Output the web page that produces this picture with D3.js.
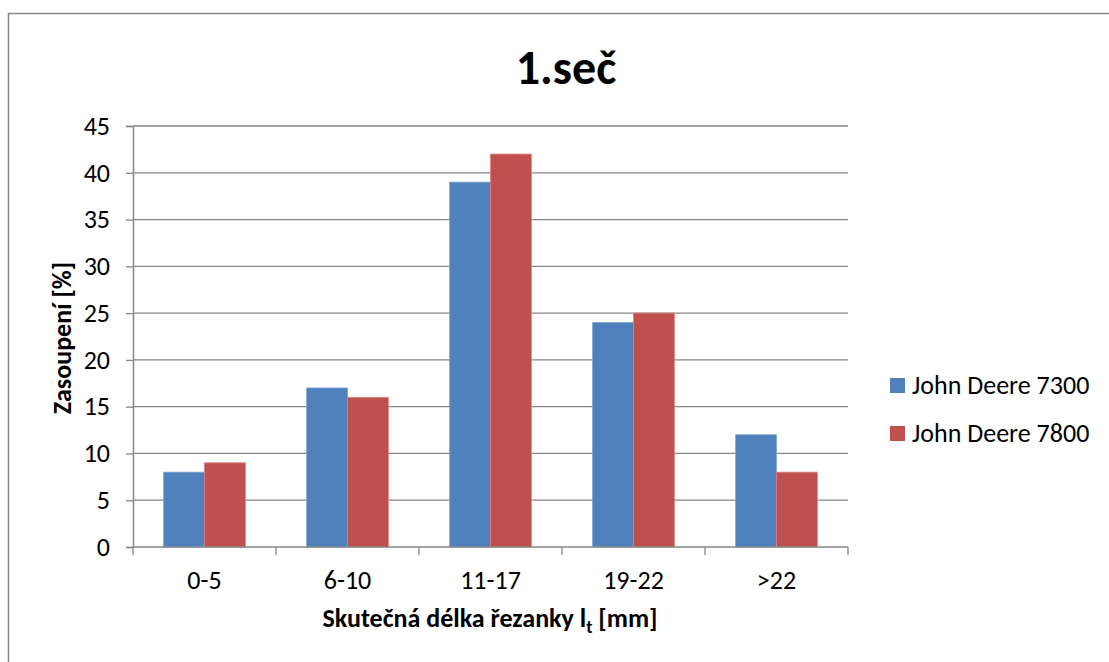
<!DOCTYPE html>
<html>
<head>
<meta charset="utf-8">
<script src="https://cdn.jsdelivr.net/npm/d3@7/dist/d3.min.js"></script>
<style>
  html, body { margin: 0; padding: 0; background: #fff; }
  svg { display: block; font-family: Carlito, Lato, "Open Sans", sans-serif; }
</style>
</head>
<body>
<svg id="chart" width="1109" height="662"></svg>
<script>
// Share of chopped-forage particle length classes, first cut
const categories = ["0-5", "6-10", "11-17", "19-22", ">22"];
const seriesNames = ["John Deere 7300", "John Deere 7800"];
const jd7300 = [8, 17, 39, 24, 12];
const jd7800 = [9, 16, 42, 25, 8];
const yTicks = [0, 5, 10, 15, 20, 25, 30, 35, 40, 45];
const colors = ["#4F81BD", "#C0504D"];
const edgeColors = ["#7FA3D3", "#D98381"];

const series = [jd7300, jd7800];
const svg = d3.select("#chart");
const gridColor = "#868686";
const labelSize = 26;

// outer chart frame
svg.append("rect")
  .attr("x", 8.5).attr("y", 13.5)
  .attr("width", 1120).attr("height", 680)
  .attr("fill", "#fff")
  .attr("stroke", gridColor).attr("stroke-width", 1.5);

const plot = { left: 133, right: 848, top: 126, bottom: 547 };

const x0 = d3.scaleBand().domain(categories).range([plot.left, plot.right]).padding(0);
const x1 = d3.scaleBand().domain(d3.range(series.length))
  .range([0, x0.bandwidth()]).paddingInner(0).paddingOuter(0.75);
const y = d3.scaleLinear().domain([0, 45]).range([plot.bottom, plot.top]);

// horizontal gridlines
svg.append("g")
  .selectAll("line")
  .data(yTicks.filter(d => d > 0))
  .join("line")
  .attr("x1", plot.left).attr("x2", plot.right)
  .attr("y1", d => y(d)).attr("y2", d => y(d))
  .attr("stroke", gridColor).attr("stroke-width", 1.3);

// bars
const groups = svg.append("g")
  .selectAll("g")
  .data(categories)
  .join("g")
  .attr("transform", d => `translate(${x0(d)},0)`);

groups.selectAll("rect")
  .data((c, i) => series.map((s, k) => ({ k, v: s[i] })))
  .join("rect")
  .attr("x", d => x1(d.k))
  .attr("width", x1.bandwidth())
  .attr("y", d => y(d.v))
  .attr("height", d => y(0) - y(d.v))
  .attr("fill", d => colors[d.k])
  .attr("stroke", d => edgeColors[d.k])
  .attr("stroke-width", 0.8);

// y axis
const yAxis = svg.append("g")
  .attr("transform", `translate(${plot.left},0)`)
  .call(d3.axisLeft(y).tickValues(yTicks).tickSize(7).tickPadding(16));
yAxis.select(".domain").attr("stroke", gridColor).attr("stroke-width", 1.5);
yAxis.selectAll(".tick line").attr("stroke", gridColor).attr("stroke-width", 1.3);
yAxis.selectAll(".tick text")
  .attr("font-size", labelSize).attr("fill", "#000")
  .attr("font-family", "Carlito, Lato, sans-serif");

// x axis with ticks between categories
const xAxisG = svg.append("g").attr("transform", `translate(0,${plot.bottom})`);
xAxisG.append("line")
  .attr("x1", plot.left).attr("x2", plot.right)
  .attr("stroke", gridColor).attr("stroke-width", 1.5);
xAxisG.selectAll("line.tk")
  .data(d3.range(categories.length + 1))
  .join("line")
  .attr("class", "tk")
  .attr("x1", i => i < categories.length ? x0(categories[i]) : plot.right)
  .attr("x2", i => i < categories.length ? x0(categories[i]) : plot.right)
  .attr("y1", 0).attr("y2", 8)
  .attr("stroke", gridColor).attr("stroke-width", 1.3);
xAxisG.selectAll("text")
  .data(categories)
  .join("text")
  .attr("x", d => x0(d) + x0.bandwidth() / 2)
  .attr("y", 42)
  .attr("text-anchor", "middle")
  .attr("font-size", labelSize)
  .text(d => d);

// chart title
svg.append("text")
  .attr("x", 566).attr("y", 84)
  .attr("text-anchor", "middle")
  .attr("font-size", 48).attr("font-weight", "bold")
  .text("1.seč");

// x axis title with subscript
const xt = svg.append("text")
  .attr("x", 490).attr("y", 627)
  .attr("text-anchor", "middle")
  .attr("font-size", 26).attr("font-weight", "bold");
xt.append("tspan").text("Skutečná délka řezanky l");
xt.append("tspan").attr("font-size", 18).attr("dy", 6).text("t");
xt.append("tspan").attr("dy", -6).text(" [mm]");

// y axis title
svg.append("text")
  .attr("transform", "translate(71,338) rotate(-90)")
  .attr("text-anchor", "middle")
  .attr("font-size", 26).attr("font-weight", "bold")
  .text("Zasoupení [%]");

// legend
const legend = svg.append("g")
  .selectAll("g")
  .data(seriesNames)
  .join("g")
  .attr("transform", (d, i) => `translate(890,${378 + i * 48})`);
legend.append("rect")
  .attr("width", 15).attr("height", 15)
  .attr("fill", (d, i) => colors[i]);
legend.append("text")
  .attr("x", 22).attr("y", 16)
  .attr("font-size", labelSize)
  .text(d => d);
</script>
</body>
</html>
